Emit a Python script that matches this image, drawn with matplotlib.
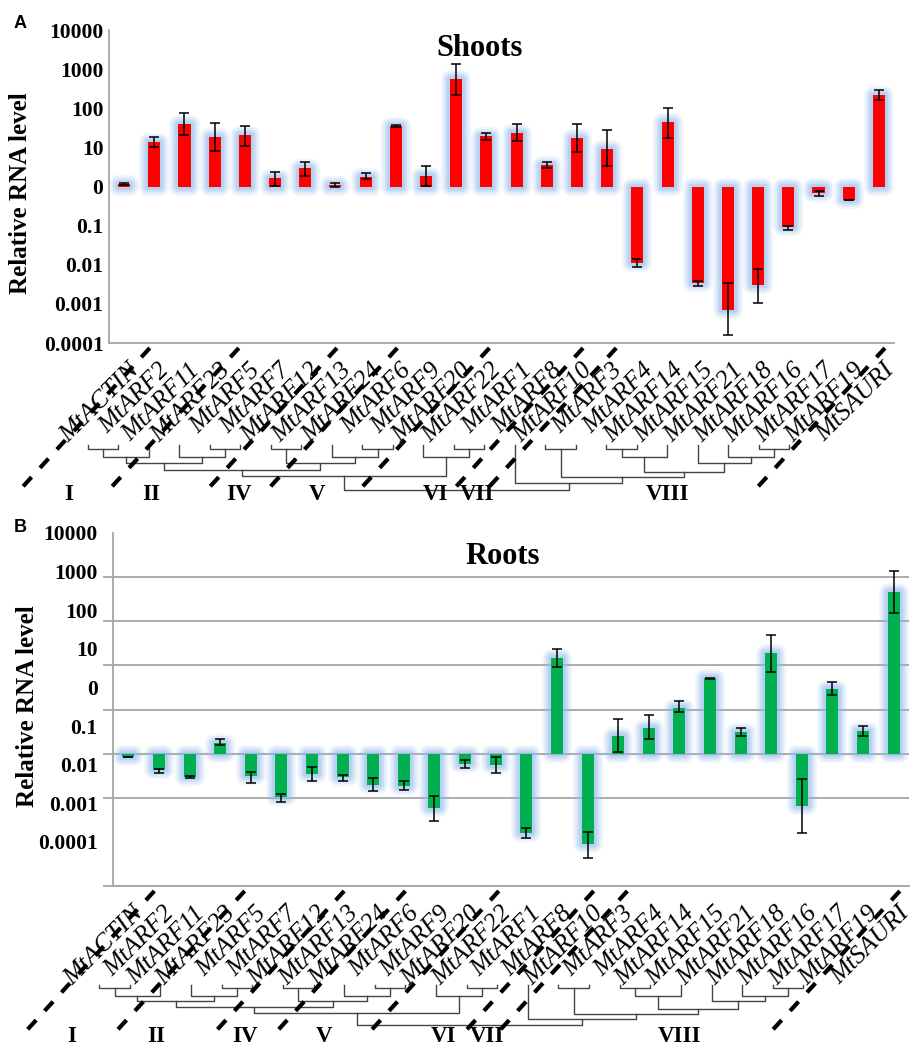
import numpy as np
import matplotlib
matplotlib.use('Agg')
import matplotlib.pyplot as plt
from matplotlib.lines import Line2D
from matplotlib.ticker import FixedLocator, NullFormatter

plt.rcParams['font.family'] = ['Liberation Serif', 'DejaVu Serif']

# 遺伝子名
CATEGORIES = ['MtACTIN', 'MtARF2', 'MtARF11', 'MtARF23', 'MtARF5', 'MtARF7', 'MtARF12',
              'MtARF13', 'MtARF24', 'MtARF6', 'MtARF9', 'MtARF20', 'MtARF22', 'MtARF1',
              'MtARF8', 'MtARF10', 'MtARF3', 'MtARF4', 'MtARF14', 'MtARF15', 'MtARF21',
              'MtARF18', 'MtARF16', 'MtARF17', 'MtARF19', 'MtSAURI']

# Shoots (平均, 誤差下端, 誤差上端)
shoots_mean = [1.17, 13.5, 40, 18.5, 20.3, 1.63, 2.9, 1.12, 1.8, 36, 1.9, 550, 19, 23.4,
               3.5, 17, 9.3, 0.0112, 43.7, 0.0034, 0.00069, 0.003, 0.092, 0.69, 0.44, 214]
shoots_lo = [1.12, 10, 21, 8, 11, 1.05, 1.9, 1.0, 1.57, 34, 1.05, 223, 15.8, 14.7,
             3.0, 7.7, 3.3, 0.009, 17.8, 0.0029, 0.000158, 0.00107, 0.076, 0.556, 0.44, 166]
shoots_hi = [1.22, 18.5, 76, 41, 35.5, 2.4, 4.3, 1.25, 2.2, 38, 3.4, 1380, 23.4, 40,
             4.27, 40, 27.3, 0.0144, 104, 0.0038, 0.0034, 0.008, 0.098, 0.76, 0.44, 295]

# Roots
roots_mean = [0.84, 0.42, 0.296, 1.78, 0.306, 0.104, 0.346, 0.29, 0.198, 0.188, 0.0587, 0.59,
              0.54, 0.0162, 148, 0.0091, 2.47, 3.9, 11, 51, 3.1, 186, 0.066, 29.8, 3.27, 4630]
roots_lo = [0.82, 0.37, 0.286, 1.6, 0.22, 0.08, 0.236, 0.236, 0.14, 0.148, 0.029, 0.48,
            0.36, 0.0124, 92, 0.0043, 1.11, 2.19, 8.65, 48.5, 2.47, 72, 0.0162, 21, 2.56, 1575]
roots_hi = [0.86, 0.44, 0.312, 2.15, 0.39, 0.12, 0.50, 0.328, 0.275, 0.24, 0.11, 0.73,
            0.84, 0.0203, 232, 0.017, 6.1, 7.5, 15.4, 52.5, 3.9, 480, 0.267, 42, 4.24, 13600]

YTICK_LABELS = ['10000', '1000', '100', '10', '0', '0.1', '0.01', '0.001', '0.0001']

# サブファミリー
GROUPS = ['I', 'II', 'IV', 'V', 'VI', 'VII', 'VIII']
GROUP_X = [-1.85, 0.9, 3.8, 6.4, 10.3, 11.7, 18.0]
DASH_X = [0.85, 3.8, 7.05, 9.05, 12.1, 15.2, 16.3, 25.2]

# 系統樹 (葉番号 = ARF の並び, 数字 = 軸下からの距離 px)
TREE = (((((((0, 1, 106), 2, 114), (3, (4, 5, 106), 114), 119.5),
           ((6, 7, 106), (8, (9, 10, 106), 114), 119.5), 127),
          (11, (12, 13, 106), 114), 133),
         (14, ((15, 16, 106),
               (((17, 18, 106), 19, 114), (20, (21, (22, 23, 106), 114), 119.5), 129),
               134), 140),
         147))
LEAF_TOP = 102

W, H = 914, 1048
GRID_C = '#a6a6a6'
GLOW = '#92b9ee'

fig = plt.figure(figsize=(W / 100, H / 100), dpi=100)


def box(l, t, r, b):
    return [l / W, 1 - b / H, (r - l) / W, (b - t) / H]


ax_s = fig.add_axes(box(109, 30, 894, 343))
ax_r = fig.add_axes(box(113, 533, 909, 886))


def fig_pt(ax, xd, dy, dx=0):
    xx = ax.transData.transform((xd, 1.0))[0]
    yb = ax.transAxes.transform((0, 0))[1]
    return fig.transFigure.inverted().transform((xx + dx, yb - dy))


def setup(ax, ylim, grid_exp, label_pos, pad):
    ax.set_yscale('log')
    ax.set_xlim(-0.5, len(CATEGORIES) - 0.5)
    ax.set_ylim(*ylim)
    for s in ['top', 'right']:
        ax.spines[s].set_visible(False)
    for s in ['left', 'bottom']:
        ax.spines[s].set_color(GRID_C)
        ax.spines[s].set_linewidth(1.3)
    ax.yaxis.set_major_locator(FixedLocator(label_pos))
    ax.yaxis.set_minor_locator(FixedLocator(10.0 ** np.array(grid_exp)))
    ax.yaxis.set_minor_formatter(NullFormatter())
    ax.set_yticklabels(YTICK_LABELS, fontweight='bold', fontsize=15.5)
    ax.tick_params(axis='y', which='major', length=0, pad=pad)
    ax.tick_params(axis='y', which='minor', length=7, color=GRID_C, width=1.3)
    ax.grid(axis='y', which='minor', color=GRID_C, lw=1.3, zorder=0)
    ax.set_xticks([])
    ax.set_axisbelow(True)


def bars(ax, mean, lo, hi, color, width):
    x = np.arange(len(mean))
    mean = np.array(mean)
    h = mean - 1.0
    # ぼかし風の縁
    for lw, a in [(13, 0.12), (10, 0.18), (7, 0.25), (4, 0.35)]:
        ax.bar(x, h, bottom=1.0, width=width, color=GLOW, edgecolor=GLOW,
               linewidth=lw, alpha=a, joinstyle='round', zorder=2)
    ax.bar(x, h, bottom=1.0, width=width, color=color, zorder=3)
    yerr = [mean - np.array(lo), np.array(hi) - mean]
    ax.errorbar(x, mean, yerr=yerr, fmt='none', ecolor='black', elinewidth=1.1,
                capsize=3.3, capthick=1.1, zorder=4)


def tree(ax, node, leaf_x, sc, off):
    if isinstance(node, int):
        return leaf_x[node], LEAF_TOP
    l, r, lev = node
    xl, tl = tree(ax, l, leaf_x, sc, off)
    xr, tr = tree(ax, r, leaf_x, sc, off)
    pts = [(xl, tl), (xl, lev), (xr, lev), (xr, tr)]
    xy = [fig_pt(ax, p[0], p[1] * sc + off) for p in pts]
    fig.add_artist(Line2D([q[0] for q in xy], [q[1] for q in xy], transform=fig.transFigure,
                          color='#444444', lw=1.0))
    return (xl + xr) / 2, lev


def lower(ax, leaf0, leaf_step, sc, off):
    n = len(CATEGORIES)
    for i, name in enumerate(CATEGORIES):
        fig.text(*fig_pt(ax, i, 24, 12), name, rotation=45, rotation_mode='anchor',
                 ha='right', va='center', fontstyle='italic', fontsize=18.5)
    leaf_x = leaf0 + leaf_step * np.arange(n - 2)
    tree(ax, TREE, leaf_x, sc, off)
    for xd in DASH_X:
        p0 = fig_pt(ax, xd, 5)
        p1 = fig_pt(ax, xd, 147, -130)
        fig.add_artist(Line2D([p0[0], p1[0]], [p0[1], p1[1]], transform=fig.transFigure,
                              color='black', lw=3, linestyle=(0, (3, 3))))
    for g, xg in zip(GROUPS, GROUP_X):
        fig.text(*fig_pt(ax, xg, 151), g, ha='center', va='center',
                 fontweight='bold', fontsize=16.5)


# Shoots
setup(ax_s, (1e-4, 1e4), np.arange(-4, 5), 10.0 ** np.arange(4, -5, -1), 4)
bars(ax_s, shoots_mean, shoots_lo, shoots_hi, '#ff0000', 0.4)
lower(ax_s, -1.2, 1.01, 1.0, 0)

# Roots
setup(ax_r, (1e-3, 1e5), np.arange(-3, 6), 10.0 ** (5 - np.arange(9) * 7 / 8), 11)
bars(ax_r, roots_mean, roots_lo, roots_hi, '#00b050', 0.39)
lower(ax_r, -0.95, 1.0, 0.9, 7)

fig.text(480 / W, 1 - 48 / H, 'Shoots', ha='center', va='center', fontweight='bold', fontsize=22)
fig.text(503 / W, 1 - 556 / H, 'Roots', ha='center', va='center', fontweight='bold', fontsize=22)
fig.text(21 / W, 1 - 193 / H, 'Relative RNA level', rotation=90, ha='center', va='center',
         fontweight='bold', fontsize=18)
fig.text(28 / W, 1 - 706 / H, 'Relative RNA level', rotation=90, ha='center', va='center',
         fontweight='bold', fontsize=18)
fig.text(20 / W, 1 - 24 / H, 'A', ha='center', va='center', family='Liberation Sans',
         fontweight='bold', fontsize=13)
fig.text(20 / W, 1 - 528 / H, 'B', ha='center', va='center', family='Liberation Sans',
         fontweight='bold', fontsize=13)

fig.savefig('out.png', dpi=100)
